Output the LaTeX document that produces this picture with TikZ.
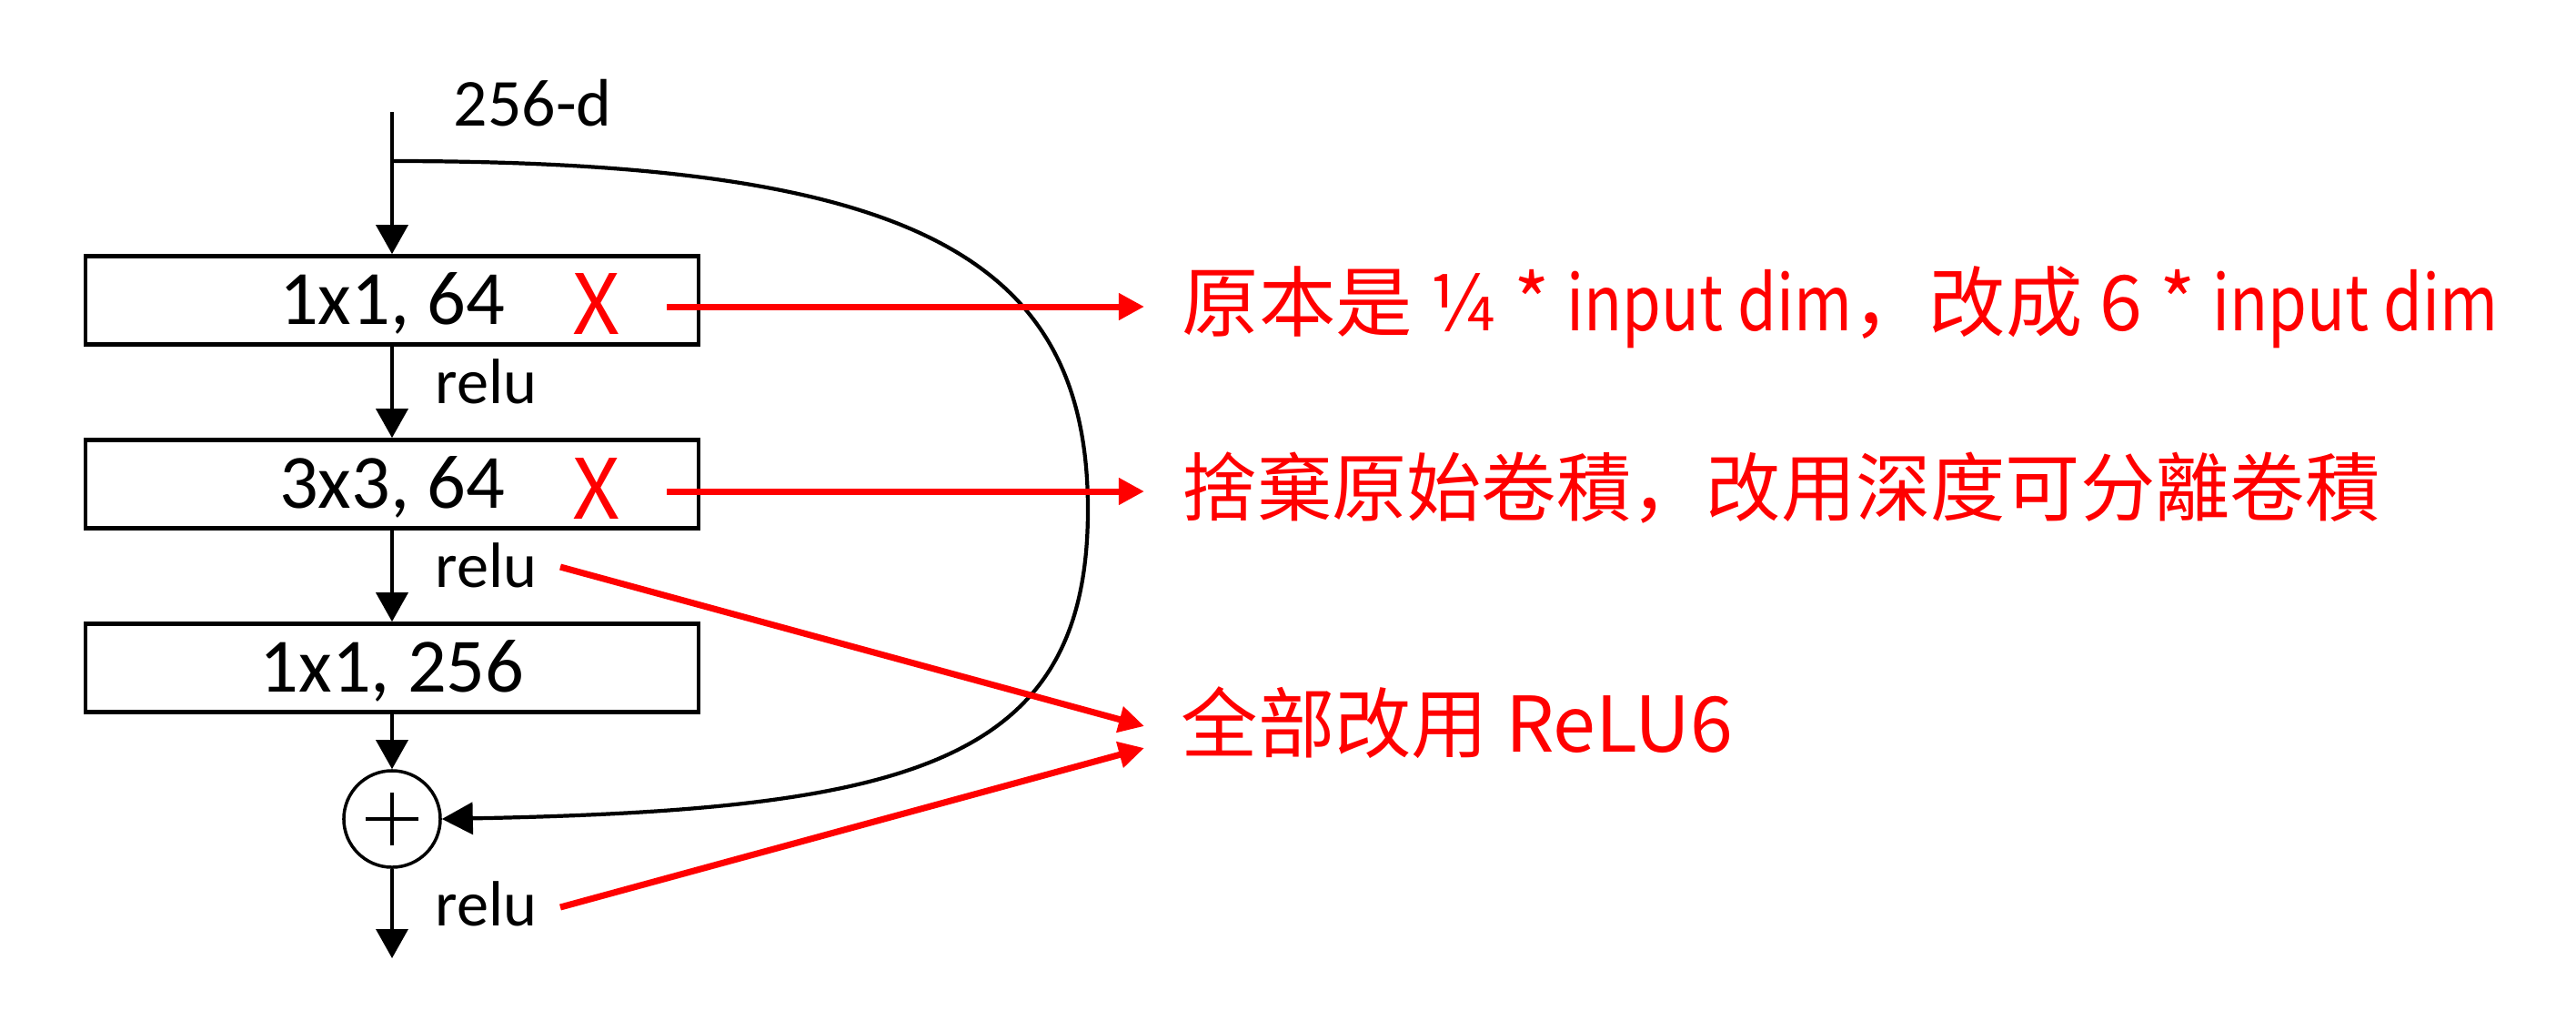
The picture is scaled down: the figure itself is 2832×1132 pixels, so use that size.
\documentclass[tikz,border=0pt]{standalone}
\usepackage{fontspec}
\setmainfont{Carlito}
\newfontfamily\cjk{Noto Sans CJK SC}
\newfontfamily\cjknarrow[FakeStretch=0.82]{Noto Sans CJK SC}
\usetikzlibrary{arrows.meta}
\definecolor{annred}{RGB}{255,0,0}
\begin{document}
\begin{tikzpicture}[x=0.01cm,y=-0.01cm,
  blk/.style={draw, line width=1.3pt, minimum width=6.74cm, minimum height=0.97cm,
    inner sep=0pt, font=\fontsize{24}{28}\selectfont, text height=15.2pt, text depth=0pt},
  lbl/.style={inner sep=0pt, anchor=base west, font=\fontsize{20}{24}\selectfont},
  flow/.style={line width=1pt, -{Triangle[length=0.32cm,width=0.35cm]}},
  skip/.style={line width=1.2pt, -{Triangle[length=0.34cm,width=0.35cm]}},
  ann/.style={annred, line width=2pt, -{Triangle[length=0.28cm,width=0.28cm]}},
  anntxt/.style={annred, inner sep=0pt, anchor=base west, font=\cjk\fontsize{24}{28}\selectfont},
  xmark/.style={annred, inner sep=0pt, anchor=base, font=\cjk\fontsize{26}{30}\selectfont}
]
\useasboundingbox (0,0) rectangle (2832,1132);

% main column
\coordinate (in) at (431,123);
\coordinate (br) at (431,177);
\node[lbl, font=\fontsize{21}{25}\selectfont] (dim) at (498,138) {256-d};
\node[blk] (b1) at (431,330) {1x1, 64};
\node[blk] (b2) at (431,532) {3x3, 64};
\node[blk] (b3) at (431,734) {1x1, 256};
\node[circle, draw, line width=1pt, minimum size=1.06cm, inner sep=0pt] (sum) at (431,900) {};
\draw[line width=1pt] ([xshift=-0.29cm]sum.center) -- ([xshift=0.29cm]sum.center);
\draw[line width=1pt] ([yshift=-0.29cm]sum.center) -- ([yshift=0.29cm]sum.center);
\coordinate (out) at (431,1053);

\node[lbl] (r1) at (478,443) {relu};
\node[lbl] (r2) at (478,645) {relu};
\node[lbl] (r3) at (478,1017) {relu};

\draw[flow] (in) -- (b1.north);
\draw[flow] (b1.south) -- (b2.north);
\draw[flow] (b2.south) -- (b3.north);
\draw[flow] (b3.south) -- (sum.north);
\draw[flow] (sum.south) -- (out);

% shortcut
\draw[skip] (br) .. controls (1000,177) and (1196,280) .. (1196,560)
  .. controls (1196,840) and (1000,890) .. (sum.east);

% red marks
\node[xmark] (x1) at (656,367) {X};
\node[xmark] (x2) at (656,570) {X};

% red annotations
\node[anntxt] (t1) at (1299,363) {原本是 ¼ * {\cjknarrow input dim}，改成 6 * {\cjknarrow input dim}};
\node[anntxt, font=\cjk\fontsize{23.4}{28}\selectfont] (t2) at (1299,566) {捨棄原始卷積，改用深度可分離卷積};
\node[anntxt] (t3) at (1298,826) {全部改用 ReLU6};

\coordinate (s1) at (733,337);
\coordinate (e1) at (1258,337);
\coordinate (s2) at (733,540);
\coordinate (e2) at (1258,540);
\coordinate (s3) at (616,623);
\coordinate (e3) at (1258,798);
\coordinate (s4) at (616,997);
\coordinate (e4) at (1258,822);

\draw[ann] (s1) -- (e1);
\draw[ann] (s2) -- (e2);
\draw[ann] (s3) -- (e3);
\draw[ann] (s4) -- (e4);
\end{tikzpicture}
\end{document}
